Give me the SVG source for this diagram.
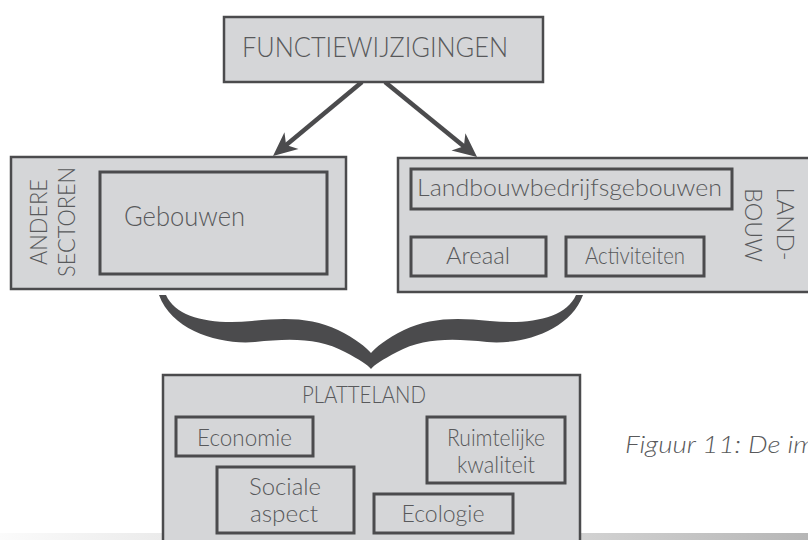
<svg xmlns="http://www.w3.org/2000/svg" width="808" height="540" viewBox="0 0 808 540">
<defs>
<style>
.box{fill:#d5d6d8;stroke:#4b4b4d;stroke-width:2.5}
.inner{fill:none;stroke:#4b4b4d;stroke-width:3}
.t{font-family:Lato,"Liberation Sans",sans-serif;font-weight:300;fill:#58595b;font-size:24px}
.big{font-size:27px}
.conn{stroke:#4b4b4d;stroke-width:4.5;fill:none;marker-end:url(#ah)}
</style>
<marker id="ah" markerUnits="userSpaceOnUse" viewBox="-26 -12 28 24" markerWidth="28" markerHeight="24" refX="-14" refY="0" orient="auto">
<path d="M0,0 L-24,-11 L-17,0 L-24,11 Z" fill="#4b4b4d"/>
</marker>
<linearGradient id="strip" x1="0" y1="0" x2="1" y2="0">
<stop offset="0" stop-color="#fbfbfb"/>
<stop offset="0.2" stop-color="#ebebeb"/>
<stop offset="0.72" stop-color="#d2d2d2"/>
<stop offset="1" stop-color="#b6b6b6"/>
</linearGradient>
</defs>
<rect x="0" y="0" width="808" height="540" fill="#ffffff"/>
<rect x="0" y="533" width="808" height="7" fill="url(#strip)"/>

<g id="connectors">
<line class="conn" x1="362" y1="82" x2="283.8" y2="147"/>
<line class="conn" x1="385" y1="82" x2="466.2" y2="148.2"/>
<path id="brace" fill="#4b4b4d" d="M159,295 C172,331 220,345 255,342 C290,338 320,338 345,352 C360,360 368,365 371,369 C374,365 382,360 397,352 C422,338 452,338 487,342 C522,345 570,331 583,295 L576,295 C566,318 530,325 490,321 C455,317 429,318 404,330 C386,339 376,347 371,353 C366,347 356,339 338,330 C313,318 287,317 252,321 C212,325 176,318 166,295 Z"/>
</g>

<g id="functiewijzigingen">
<rect class="box" x="224" y="17" width="319" height="65"/>
<text class="t big" x="375" y="57" text-anchor="middle" textLength="266" lengthAdjust="spacingAndGlyphs">FUNCTIEWIJZIGINGEN</text>
</g>

<g id="andere-sectoren">
<rect class="box" x="11" y="157" width="335" height="132"/>
<text class="t" transform="translate(47,222) rotate(-90)" text-anchor="middle" textLength="86" lengthAdjust="spacingAndGlyphs">ANDERE</text>
<text class="t" transform="translate(75,222) rotate(-90)" text-anchor="middle" textLength="110" lengthAdjust="spacingAndGlyphs">SECTOREN</text>
</g>
<g id="gebouwen">
<rect class="inner" x="100" y="172" width="227" height="102"/>
<text class="t big" x="124" y="226" textLength="121" lengthAdjust="spacingAndGlyphs">Gebouwen</text>
</g>

<g id="landbouw">
<rect class="box" x="398" y="158" width="420" height="134"/>
<text class="t" transform="translate(777,224) rotate(90)" text-anchor="middle" textLength="73" lengthAdjust="spacingAndGlyphs">LAND-</text>
<text class="t" transform="translate(745,225) rotate(90)" text-anchor="middle" textLength="74" lengthAdjust="spacingAndGlyphs">BOUW</text>
</g>
<g id="landbouwbedrijfsgebouwen">
<rect class="inner" x="411" y="169" width="321" height="40"/>
<text class="t" x="417" y="196" textLength="305" lengthAdjust="spacingAndGlyphs">Landbouwbedrijfsgebouwen</text>
</g>
<g id="areaal">
<rect class="inner" x="411" y="237" width="135" height="39"/>
<text class="t" x="446" y="264" textLength="64" lengthAdjust="spacingAndGlyphs">Areaal</text>
</g>
<g id="activiteiten">
<rect class="inner" x="566" y="237" width="138" height="39"/>
<text class="t" x="585" y="264" textLength="100" lengthAdjust="spacingAndGlyphs">Activiteiten</text>
</g>

<g id="platteland">
<rect class="box" x="163" y="375" width="417" height="170"/>
<text class="t" x="364" y="403" text-anchor="middle" textLength="124" lengthAdjust="spacingAndGlyphs">PLATTELAND</text>
</g>
<g id="economie">
<rect class="inner" x="176" y="417" width="137" height="39"/>
<text class="t" x="197" y="446" textLength="95" lengthAdjust="spacingAndGlyphs">Economie</text>
</g>
<g id="ruimtelijke-kwaliteit">
<rect class="inner" x="427" y="417" width="138" height="66"/>
<text class="t" x="496" y="446" text-anchor="middle" textLength="98" lengthAdjust="spacingAndGlyphs">Ruimtelijke</text>
<text class="t" x="496" y="473" text-anchor="middle" textLength="78" lengthAdjust="spacingAndGlyphs">kwaliteit</text>
</g>
<g id="sociale-aspect">
<rect class="inner" x="217" y="467" width="137" height="66"/>
<text class="t" x="285" y="495" text-anchor="middle" textLength="72" lengthAdjust="spacingAndGlyphs">Sociale</text>
<text class="t" x="284" y="522" text-anchor="middle" textLength="68" lengthAdjust="spacingAndGlyphs">aspect</text>
</g>
<g id="ecologie">
<rect class="inner" x="374" y="494" width="139" height="39"/>
<text class="t" x="443" y="522" text-anchor="middle" textLength="83" lengthAdjust="spacingAndGlyphs">Ecologie</text>
</g>

<text class="t" x="625" y="453" font-style="italic" textLength="190" lengthAdjust="spacingAndGlyphs">Figuur 11: De im</text>
</svg>
